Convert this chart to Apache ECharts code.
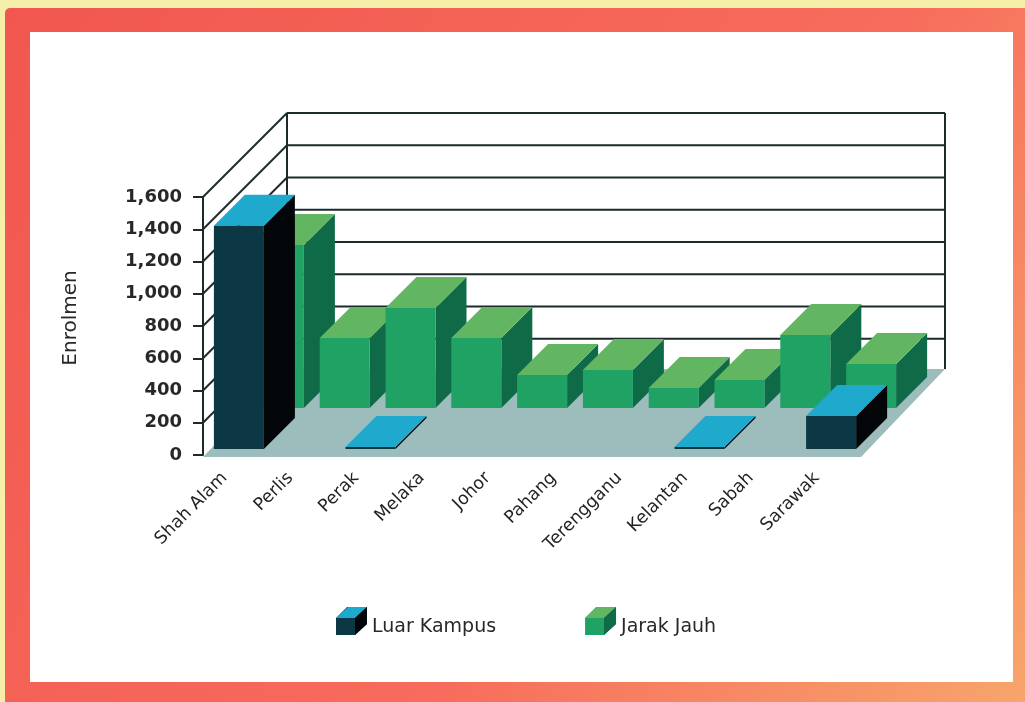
<!DOCTYPE html>
<html><head><meta charset="utf-8">
<style>html,body{margin:0;padding:0;background:#f6efa9}#c{width:1025px;height:702px}</style>
<script src="https://cdn.jsdelivr.net/npm/echarts@6/dist/echarts.min.js"></script>
</head><body><div id="c"></div>
<script>
const categories = ['Shah Alam','Perlis','Perak','Melaka','Johor','Pahang','Terengganu','Kelantan','Sabah','Sarawak'];
const luarKampus = [1385, 0, 12, 0, 0, 0, 0, 12, 0, 205];
const jarakJauh = [1011, 434, 620, 434, 205, 236, 124, 174, 453, 273];
const wallTicks = [0,200,400,600,800,1000,1200,1400,1600];
const fmt = v => v.toLocaleString('en-US');

const WALL = 84;
const FONT = '"DejaVu Sans"';
const chart = echarts.init(document.getElementById('c'), null, {renderer:'canvas'});

function barRenderer(frontDepth, shift, cols){
  return function(params, api){
    const v = api.value(1);
    if(!v) return {type:'group',children:[]};
    const i = api.value(0);
    const base = api.coord([i,0]);
    const top = api.coord([i,v]);
    const band = api.size([1,0])[0];
    const w = band*0.76, d = 31;
    const x0 = base[0]-w/2+shift, x1 = x0+w;
    const yb = base[1]-frontDepth, yt = top[1]-frontDepth;
    return {type:'group',children:[
      {type:'polygon',shape:{points:[[x1,yb],[x1+d,yb-d],[x1+d,yt-d],[x1,yt]]},style:{fill:cols.side}},
      {type:'polygon',shape:{points:[[x0,yt],[x1,yt],[x1+d,yt-d],[x0+d,yt-d]]},style:{fill:cols.top}},
      {type:'rect',shape:{x:x0,y:yt,width:w,height:yb-yt},style:{fill:cols.front}}
    ]};
  };
}
function wallRenderer(params, api){
  const v = api.value(0);
  const g = params.coordSys;
  const left = g.x, right = g.x+g.width;
  const y = api.coord([0,v])[1];
  const ch = [];
  const line = (x1,y1,x2,y2,w)=>({type:'line',shape:{x1,y1,x2,y2},style:{stroke:'#1d2a2a',lineWidth:w||2}});
  if(v===0){
    ch.push({type:'polygon',shape:{points:[[left,y+2],[right,y+2],[right+WALL,y-WALL-2],[left+WALL,y-WALL-2]]},style:{fill:'#9dbcbc'}});
    const yTop = api.coord([0,wallTicks[wallTicks.length-1]])[1]-WALL;
    ch.push(line(left+WALL,yTop,left+WALL,y-WALL,2));
    ch.push(line(right+WALL,yTop,right+WALL,y-WALL-2,2));
  } else {
    ch.push(line(left,y,left+WALL,y-WALL,2));
    ch.push(line(left+WALL,y-WALL,right+WALL,y-WALL,2));
  }
  return {type:'group',children:ch};
}

const blue = {front:'#0c3744',side:'#020608',top:'#1ea9cd'};
const green = {front:'#21a265',side:'#0f6a47',top:'#62b561'};
const cubeIcon = 'path://M0,11 L11,0 L31,0 L31,17 L19,28 L0,28 Z M0,40 L0,40 Z';

chart.setOption({
  animation:false,
  graphic:[
    {type:'rect',z:-10,shape:{x:5,y:8,width:1025,height:700,r:5},
     style:{fill:new echarts.graphic.LinearGradient(0,0,1,1,[
       {offset:0,color:'#f1574f'},{offset:0.6,color:'#f76c5c'},{offset:1,color:'#f7a66c'}])}},
    {type:'rect',z:-9,shape:{x:30,y:32,width:983,height:650},style:{fill:'#ffffff'}},
    {type:'polygon',z:50,shape:{points:[[336,618],[355,618],[367,607],[348,607]]},style:{fill:blue.top}},
    {type:'polygon',z:50,shape:{points:[[355,618],[367,607],[367,624],[355,635]]},style:{fill:blue.side}},
    {type:'polygon',z:50,shape:{points:[[585,618],[604,618],[616,607],[597,607]]},style:{fill:green.top}},
    {type:'polygon',z:50,shape:{points:[[604,618],[616,607],[616,624],[604,635]]},style:{fill:green.side}}
  ],
  grid:{left:203,top:197,width:658,height:258,containLabel:false},
  legend:{
    left:336,top:607,padding:0,itemWidth:31,itemHeight:40,itemGap:89,
    data:[{name:'Luar Kampus',icon:cubeIcon},{name:'Jarak Jauh',icon:cubeIcon}],
    textStyle:{fontFamily:FONT,fontSize:19,color:'#26282a'}
  },
  xAxis:{
    type:'category',data:categories,
    axisLine:{show:false},axisTick:{show:false},
    axisLabel:{rotate:45,interval:0,fontFamily:FONT,fontSize:17.5,color:'#1f2123',margin:9,padding:[0,16,0,0]}
  },
  yAxis:{
    type:'value',min:0,max:1600,interval:200,
    name:'Enrolmen',nameLocation:'middle',nameGap:122,nameRotate:90,
    nameTextStyle:{fontFamily:FONT,fontSize:20,color:'#26282a',padding:[0,0,0,16]},
    axisLine:{show:true,lineStyle:{color:'#1d2a2a',width:2}},
    axisTick:{show:true,length:10,lineStyle:{color:'#1d2a2a',width:2}},
    splitLine:{show:false},
    axisLabel:{fontFamily:FONT,fontSize:18,fontWeight:'bold',color:'#26282a',margin:21,formatter:fmt}
  },
  series:[
    {name:'wall',type:'custom',coordinateSystem:'cartesian2d',clip:false,z:1,silent:true,
     encode:{y:0},data:wallTicks.map(v=>[v]),renderItem:wallRenderer},
    {name:'Jarak Jauh',type:'custom',clip:false,z:2,itemStyle:{color:green.front},
     encode:{x:0,y:1},data:jarakJauh.map((v,i)=>[i,v]),renderItem:barRenderer(47,43,green)},
    {name:'Luar Kampus',type:'custom',clip:false,z:3,itemStyle:{color:blue.front},
     encode:{x:0,y:1},data:luarKampus.map((v,i)=>[i,v]),renderItem:barRenderer(6,3,blue)}
  ]
});
</script></body></html>
